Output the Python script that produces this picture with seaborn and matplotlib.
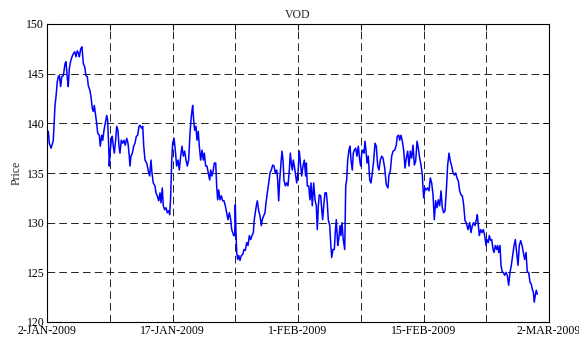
import numpy as np
import pandas as pd
import matplotlib
matplotlib.use("Agg")
import matplotlib.pyplot as plt
import seaborn as sns

# Days since 2-JAN-2009
days = [
    0.00, 0.15, 0.27, 0.47, 0.59, 0.74, 0.86, 0.94, 1.06, 1.21, 1.33, 1.45, 1.61, 1.73, 1.92,
    2.12, 2.23, 2.39, 2.50, 2.62, 2.79, 2.94, 3.09, 3.26, 3.41, 3.56, 3.73, 3.80, 3.96, 4.11,
    4.27, 4.43, 4.58, 4.74, 4.85, 5.05, 5.17, 5.32, 5.44, 5.56, 5.68, 5.84, 5.96, 6.15, 6.26,
    6.43, 6.55, 6.70, 6.85, 7.02, 7.13, 7.25, 7.32, 7.44, 7.56, 7.67, 7.79, 7.91, 8.07, 8.19,
    8.34, 8.46, 8.58, 8.73, 8.90, 9.05, 9.20, 9.37, 9.52, 9.67, 9.75, 9.87, 10.03, 10.19, 10.34,
    10.50, 10.66, 10.81, 10.93, 11.13, 11.25, 11.37, 11.52, 11.72, 11.91, 12.07, 12.22, 12.34,
    12.49, 12.69, 12.81, 12.96, 13.13, 13.28, 13.40, 13.55, 13.67, 13.83, 13.99, 14.14, 14.30,
    14.42, 14.54, 14.66, 14.77, 14.93, 15.08, 15.24, 15.40, 15.55, 15.71, 15.87, 16.02, 16.18,
    16.34, 16.49, 16.65, 16.81, 16.92, 17.04, 17.12, 17.24, 17.36, 17.51, 17.63, 17.78, 17.90,
    18.06, 18.22, 18.37, 18.49, 18.65, 18.80, 18.96, 19.12, 19.24, 19.39, 19.55, 19.66, 19.83,
    19.94, 20.06, 20.18, 20.33, 20.49, 20.65, 20.80, 20.96, 21.12, 21.27, 21.43, 21.59, 21.71,
    21.83, 21.94, 22.06, 22.13, 22.21, 22.30, 22.41, 22.53, 22.68, 22.84, 23.00, 23.15, 23.31,
    23.47, 23.62, 23.78, 23.94, 24.09, 24.25, 24.36, 24.48, 24.60, 24.72, 24.88, 25.03, 25.19,
    25.30, 25.47, 25.62, 25.74, 25.89, 26.06, 26.21, 26.36, 26.53, 26.68, 26.83, 27.00, 27.11,
    27.23, 27.35, 27.50, 27.62, 27.74, 27.85, 28.01, 28.17, 28.32, 28.48, 28.60, 28.71, 28.83,
    28.95, 29.07, 29.18, 29.35, 29.50, 29.65, 29.93, 30.09, 30.24, 30.40, 30.48, 30.59, 30.76,
    30.91, 31.03, 31.18, 31.34, 31.50, 31.65, 31.77, 31.89, 32.00, 32.17, 32.29, 32.40, 32.52,
    32.67, 32.83, 32.94, 33.06, 33.23, 33.34, 33.46, 33.61, 33.77, 33.88, 34.00, 34.17, 34.28,
    34.44, 34.55, 34.67, 34.82, 34.99, 35.11, 35.22, 35.34, 35.49, 35.61, 35.73, 35.88, 36.00,
    36.12, 36.28, 36.43, 36.59, 36.75, 36.87, 36.99, 37.14, 37.26, 37.37, 37.49, 37.61, 37.76,
    37.93, 38.08, 38.23, 38.40, 38.55, 38.70, 38.87, 39.02, 39.17, 39.34,
    39.49, 39.69, 39.88, 40.08, 40.19, 40.35, 40.51, 40.67, 40.87, 41.05, 41.17, 41.34, 41.45,
    41.61, 41.76, 41.92, 42.08, 42.23, 42.39, 42.55, 42.70, 42.86, 43.02, 43.17, 43.33, 43.49,
    43.64, 43.80, 43.96, 44.11, 44.19, 44.27, 44.43, 44.58, 44.74, 44.90, 45.05, 45.21, 45.37,
    45.52, 45.68, 45.84, 45.99, 46.15, 46.31, 46.46, 46.62, 46.78, 46.93, 47.09, 47.25, 47.40,
    47.56, 47.72, 47.87, 48.03, 48.19, 48.34, 48.50, 48.66, 48.81, 48.97, 49.13, 49.28, 49.48,
    49.68, 49.83, 49.99, 50.15, 50.30, 50.46, 50.57, 50.69, 50.81, 50.97, 51.13, 51.28, 51.44,
    51.60, 51.71, 51.87, 51.98, 52.15, 52.27, 52.42, 52.54, 52.69, 52.85, 52.97, 53.09, 53.24,
    53.36, 53.51, 53.63, 53.79, 53.95, 54.10, 54.26, 54.42, 54.57, 54.73, 54.89, 55.04, 55.20,
    55.36, 55.51, 55.67, 55.83, 55.98, 56.14, 56.30, 56.45, 56.61, 56.77, 56.92, 57.04, 57.16,
    57.27, 57.39, 57.51, 57.62,
]

price = [
    139.0, 139.2, 138.0, 137.5, 137.8, 138.3, 140.3, 141.8, 142.7, 144.2, 144.7, 144.8, 143.7, 144.7, 144.8,
    146.0, 146.2, 144.5, 143.7, 145.5, 146.3, 146.7, 147.0, 147.2, 146.7, 147.3, 147.0, 146.7, 147.5, 147.7,
    146.0, 145.7, 144.8, 144.7, 143.8, 143.3, 142.7, 141.5, 141.2, 141.8, 141.0, 140.0, 139.0, 138.8, 137.7,
    138.8, 138.3, 139.3, 140.0, 140.8, 140.3, 137.7, 135.7, 137.3, 138.3, 138.7, 137.7, 137.0, 138.3, 139.7,
    139.3, 137.7, 137.0, 138.3, 138.0, 138.3, 137.8, 138.5, 138.0, 136.7, 135.7, 136.7, 137.0, 137.7, 138.0,
    138.7, 138.8, 139.7, 139.8, 139.5, 139.7, 137.7, 136.3, 136.0, 135.2, 134.7, 136.3, 135.0,
    134.0, 133.7, 133.0, 132.7, 132.2, 133.0, 132.0, 133.5, 131.7, 131.3, 131.5, 131.0, 131.2,
    130.8, 132.7, 136.3, 138.0, 138.5, 137.3, 135.7, 136.3, 135.3, 136.7, 137.7, 136.7, 137.2,
    136.3, 135.7, 136.3, 139.0, 140.3, 141.3, 141.8, 140.3, 139.3, 139.7, 138.3, 139.2, 137.7,
    136.3, 137.3, 136.3, 137.0, 135.7, 135.7, 135.0, 134.3, 135.3, 134.7, 135.3, 136.0, 136.0,
    133.7, 132.3, 133.3, 132.3, 132.7, 132.2, 132.2, 131.7, 131.0, 130.3, 131.0, 130.3, 129.3,
    129.0, 128.7, 128.7, 131.8, 129.0, 127.0, 126.3, 126.7, 126.2, 126.7, 126.8, 127.3, 127.2,
    128.0, 127.7, 128.7, 128.3, 128.7, 129.0, 130.3, 131.0, 131.7, 132.2, 131.2, 130.7, 129.7,
    130.3, 130.7, 131.0, 132.0, 133.0, 134.0, 135.0, 135.3, 135.8, 135.7, 135.0, 135.3, 134.3,
    132.2, 134.3, 136.0, 137.2, 136.3, 134.3, 133.7, 134.0, 133.7, 135.3, 137.0, 136.0, 135.3,
    136.3, 135.7, 135.0, 134.0, 135.0, 137.2, 134.7, 135.7, 136.3, 134.7, 136.0, 133.7, 133.7,
    132.3, 134.0, 131.7, 134.0, 132.3, 131.7, 129.3, 131.7, 132.8, 132.7, 131.3, 130.3, 131.7,
    133.0, 133.0, 132.0, 130.3, 129.7, 128.0, 126.5, 127.3, 127.3, 129.0, 130.3, 127.7, 128.3,
    129.7, 128.7, 130.0, 128.3, 127.3, 133.7, 134.3, 136.3, 137.3, 137.7, 136.3, 135.3, 137.0,
    137.3, 137.5, 136.7, 137.7, 136.3, 135.7, 137.0, 137.3, 137.0, 138.2, 137.3, 136.0, 136.7,
    134.3, 134.0, 135.0, 136.3, 138.0, 137.7, 135.7, 135.3, 136.3, 136.7,
    136.5, 135.5, 133.8, 133.5, 134.8, 135.2, 136.7, 137.2, 137.3, 137.8, 138.7, 138.8, 138.3,
    138.8, 138.2, 137.3, 135.5, 136.5, 137.2, 135.7, 137.2, 136.5, 137.8, 135.8, 136.2, 138.2,
    137.5, 136.5, 135.8, 134.8, 133.5, 132.5, 133.5, 133.3, 133.5, 133.2, 134.5, 134.0, 132.8,
    130.3, 132.2, 131.5, 132.3, 131.7, 133.2, 131.5, 131.0, 131.2, 133.2, 135.8, 137.0, 136.2,
    135.7, 135.0, 134.8, 135.0, 134.5, 134.2, 133.2, 132.8, 132.7, 131.8, 130.2, 130.0, 129.3,
    130.0, 129.0, 129.7, 130.0, 129.7, 130.3, 130.8, 129.7, 128.7, 129.3, 129.0, 129.3, 128.7,
    127.7, 128.3, 128.0, 128.7, 128.2, 128.3, 127.3, 127.0, 127.7, 127.3, 127.7, 127.0, 127.7,
    125.7, 125.0, 125.0, 124.7, 125.0, 124.7, 123.7, 125.0, 125.7, 126.7, 127.7, 128.3, 127.0,
    125.7, 127.7, 128.2, 127.7, 127.0, 126.3, 127.0, 125.0, 125.0, 124.0, 123.8, 123.3, 123.0,
    122.0, 122.7, 123.2, 122.8,
]

tick_labels = ["2-JAN-2009", "", "17-JAN-2009", "", "1-FEB-2009", "", "15-FEB-2009", "", "2-MAR-2009"]
y_ticks = [120, 125, 130, 135, 140, 145, 150]
title = "VOD"
y_label = "Price"

df = pd.DataFrame({"day": days, "price": price})

sns.set_style("white")
plt.rcParams["font.family"] = ["Liberation Serif", "DejaVu Serif"]
plt.rcParams["lines.scale_dashes"] = False

fig = plt.figure(figsize=(5.79, 3.38), dpi=100)
ax = fig.add_axes([47 / 579, 16 / 338, 502 / 579, 298 / 338])

sns.lineplot(data=df, x="day", y="price", ax=ax, color="#0000ff", linewidth=1.1,
             estimator=None, sort=False)

ax.set_xlim(0, 59)
ax.set_ylim(120, 150)
ax.set_xticks(np.linspace(0, 59, len(tick_labels)))
ax.set_xticklabels(tick_labels)
ax.set_yticks(y_ticks)
ax.set_yticklabels([str(v) for v in y_ticks])

ax.grid(True, color="#222222", linestyle=(0, (5.5, 3.0)), linewidth=0.7)
ax.tick_params(direction="in", length=4, width=0.7, top=True, right=True,
               labelsize=8.5, pad=2, colors="black")
for s in ax.spines.values():
    s.set_color("black")
    s.set_linewidth(0.8)

ax.set_title(title, fontsize=8.5, pad=4)
ax.set_xlabel("")
ax.set_ylabel(y_label, fontsize=8.5, labelpad=3)

fig.savefig("out.png", dpi=100)
